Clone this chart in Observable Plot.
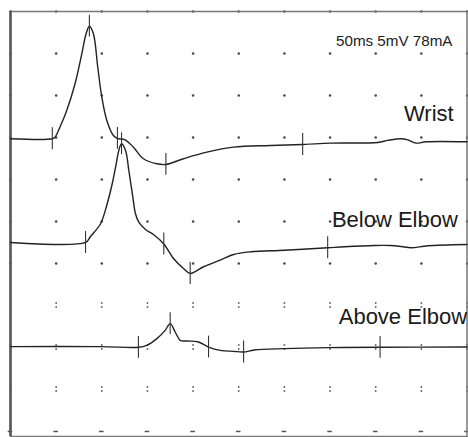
<!DOCTYPE html>
<html><head><meta charset="utf-8">
<script src="https://cdn.jsdelivr.net/npm/d3@7"></script>
<script src="https://cdn.jsdelivr.net/npm/@observablehq/plot@0.6"></script>
<style>html,body{margin:0;padding:0;background:#fff;} #chart{width:468px;height:437px;overflow:hidden;}</style>
</head><body><div id="chart"></div>
<script>
// Nerve conduction study: three CMAP traces, 50 ms/div, 5 mV/div
const traceNames = ["Wrist", "Below Elbow", "Above Elbow"];
const baselines = [34.85, 22.5, 10.1]; // mV, vertical offset of each trace

const wristTime = [0, 45.8, 48.8, 55.4, 61.6, 70.7, 78.1, 82.8, 86.4, 90.8, 95.6, 100, 105.5, 112.7, 117.1, 125.5, 134.6, 145.6, 160.3, 170.2, 189.5, 215.1, 244.3, 284.5, 320, 351.1, 402.2, 413.2, 427.9, 435.1, 444.3, 455.3, 500];
const wristAmp  = [0, 0, 0.19, 1.7, 3.37, 6.55, 10.1, 12.5, 13.4, 12.5, 8.5, 4.95, 2.18, 0.39, 0.04, -0.12, -1.0, -2.38, -2.98, -3.06, -2.38, -1.6, -1.0, -0.8, -0.68, -0.52, -0.44, -0.2, 0, -0.14, -0.52, -0.36, -0.36];
const wristMarkers = [45.8, 86.4, 117.1, 170.2, 320];

const belowTime = [0, 82.2, 87.6, 98.6, 105.9, 111.4, 115.8, 118.6, 121.6, 126, 129.6, 134, 136.9, 140.5, 147.9, 156.6, 167.9, 178.5, 189.5, 196.8, 211.4, 229.7, 244.3, 263.4, 299.9, 347.4, 365.7, 398.6, 416.1, 427.9, 438.8, 457, 500];
const belowAmp  = [0, 0, 0.71, 2.23, 4.61, 6.99, 9.37, 10.95, 11.75, 10.95, 8.57, 5.39, 3.42, 2.42, 1.55, 0.95, -0.18, -1.9, -3.1, -3.69, -2.89, -2.11, -1.43, -1.11, -0.92, -0.63, -0.51, -0.36, -0.36, -0.48, -0.63, -0.39, -0.24];
const belowMarkers = [82.2, 121.6, 167.9, 196.8, 347.4];

const aboveTime = [0, 98.1, 140.1, 149.3, 160.3, 169.4, 174.9, 180.4, 185.9, 193.2, 205.9, 216.9, 229.7, 244.3, 255.3, 267, 299.9, 349.2, 404.8, 500];
const aboveAmp  = [0, 0, -0.08, 0.15, 0.95, 1.94, 2.74, 1.74, 0.75, 0.67, 0.55, -0.05, -0.44, -0.56, -0.64, -0.4, -0.24, -0.12, -0.08, -0.05];
const aboveMarkers = [140.1, 174.9, 216.9, 255.3, 404.8];

const settingsLabel = "50ms 5mV 78mA";
const labelTime = [431, 352, 359.5];      // ms, left edge of each trace label
const labelLevel = [36.94, 24.32, 12.82]; // mV, text baseline of each trace label
const settingsTime = 356.5, settingsLevel = 45.9;

const gridTimes = d3.range(0, 501, 50);
const gridLevels = d3.range(0, 51, 5);
const markerHalf = 1.3; // mV half-height of latency markers

const times = [wristTime, belowTime, aboveTime];
const amps = [wristAmp, belowAmp, aboveAmp];
const markerSets = [wristMarkers, belowMarkers, aboveMarkers];

const traces = traceNames.flatMap((name, i) =>
  times[i].map((t, j) => ({name, t, v: baselines[i] + amps[i][j]})));

function ampAt(i, t) {
  const ts = times[i], as = amps[i];
  for (let j = 1; j < ts.length; j++) {
    if (t <= ts[j]) { const f = (t - ts[j-1]) / (ts[j] - ts[j-1]); return as[j-1] + f * (as[j] - as[j-1]); }
  }
  return as[as.length - 1];
}
const markers = traceNames.flatMap((name, i) =>
  markerSets[i].map(t => ({name, t, v: baselines[i] + ampAt(i, t)})));

const grid = gridTimes.flatMap(t => gridLevels.map(v => ({t, v})));
const gridUpper = grid.filter(d => d.v >= 20);
const gridColon = grid.filter(d => d.v > 0 && d.v < 20);
const gridBottom = grid.filter(d => d.v === 0);

const labels = traceNames.map((name, i) => ({name, t: labelTime[i], v: labelLevel[i]}));

const chart = Plot.plot({
  width: 468, height: 437,
  marginLeft: 10, marginRight: 1.5, marginTop: 11, marginBottom: 1,
  x: {type: "linear", domain: [0, 500], axis: null},
  y: {type: "linear", domain: [-0.6, 50], axis: null},
  style: {background: "#fff", fontFamily: "'Liberation Sans', Arial, sans-serif"},
  marks: [
    Plot.dot(gridUpper, {x: "t", y: "v", r: 1.25, fill: "#444", stroke: "none"}),
    Plot.dot(gridColon, {x: "t", y: "v", r: 0.95, fill: "#666", stroke: "none", dy: -2.5}),
    Plot.dot(gridColon, {x: "t", y: "v", r: 0.95, fill: "#666", stroke: "none", dy: 1.5}),
    Plot.ruleY(gridBottom, {y: "v", x1: d => d.t - 2.5, x2: d => d.t + 2.5, stroke: "#555", strokeWidth: 1.5}),
    Plot.frame({stroke: "#777", strokeWidth: 1.5}),
    Plot.ruleX([0], {stroke: "#555", strokeWidth: 2.5}),
    Plot.line(traces, {x: "t", y: "v", z: "name", curve: "catmull-rom", stroke: "#222", strokeWidth: 1.4}),
    Plot.ruleX(markers, {x: "t", y1: d => d.v - markerHalf, y2: d => d.v + markerHalf, stroke: "#333", strokeWidth: 1.1}),
    Plot.text(labels, {x: "t", y: "v", text: "name", textAnchor: "start", lineAnchor: "bottom", fontSize: 22, fill: "#1a1a1a"}),
    Plot.text([settingsLabel], {x: () => settingsTime, y: () => settingsLevel, text: d => d, textAnchor: "start", lineAnchor: "bottom", fontSize: 15.2, fill: "#222"})
  ]
});
document.getElementById("chart").append(chart);
</script>
</body></html>
